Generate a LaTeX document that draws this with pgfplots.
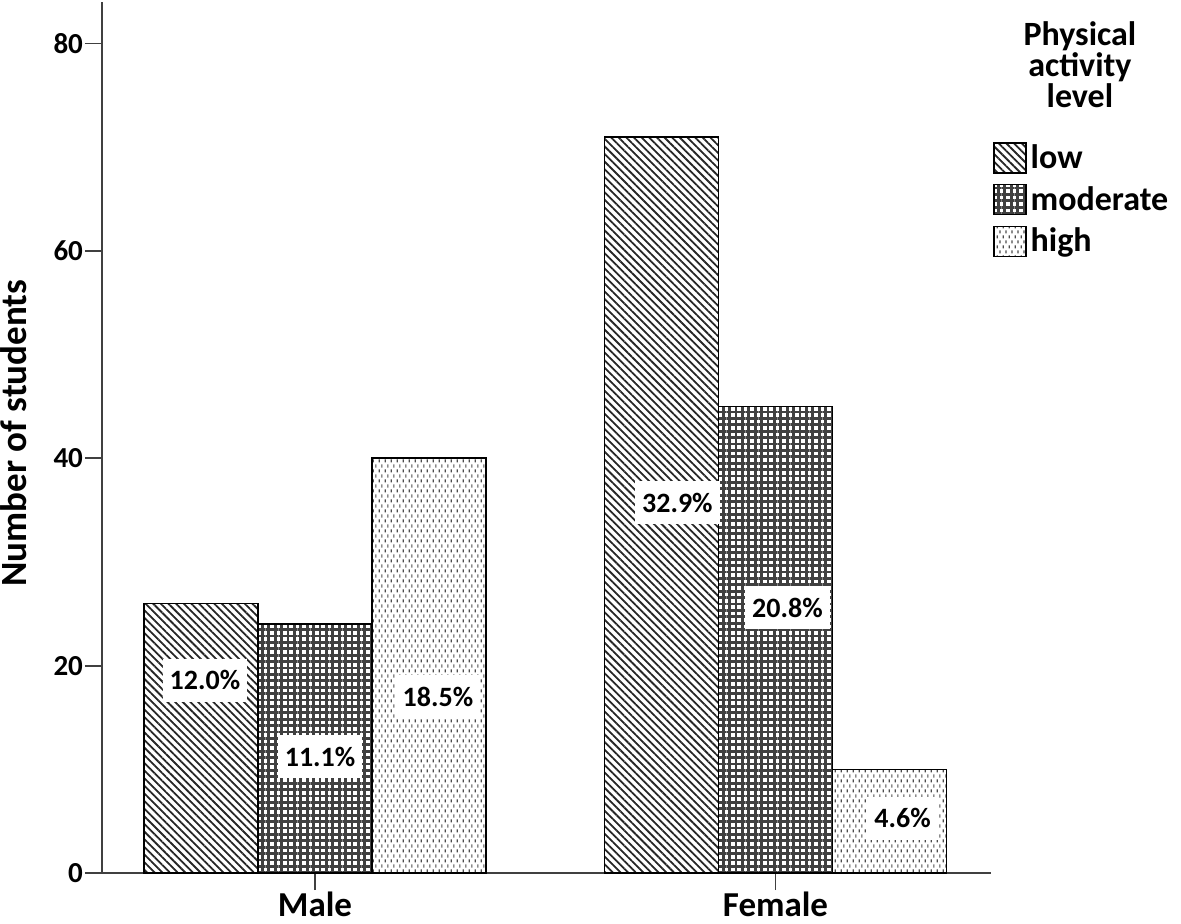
\documentclass[border=0pt]{standalone}
\usepackage{fontspec}
\setmainfont{Carlito}
\usepackage{pgfplots}
\pgfplotsset{compat=1.18}
\usetikzlibrary{patterns.meta}

\tikzdeclarepattern{
  name=hidots, type=uncolored,
  bounding box={(0pt,0pt) and (3pt,5.2pt)},
  tile size={(3pt,5.2pt)},
  code={\fill (0.4pt,0.3pt) rectangle (1.1pt,1.9pt);
        \fill (1.9pt,2.9pt) rectangle (2.6pt,4.5pt);}
}

\pgfplotsset{
  mybar/.style={ybar, bar width=0.2476, draw=black, line width=0.75pt,
    legend image code/.code={\draw[##1, line width=0.75pt] (0pt,-7.5pt) rectangle (16pt,7.5pt);}},
}

\begin{document}
\begin{tikzpicture}
\path[use as bounding box] (-51pt,-25.5pt) rectangle (539.5pt,436.5pt);
\begin{axis}[
  at={(0,0)}, anchor=south west,
  scale only axis, width=444.5pt, height=435.5pt,
  xmin=-0.4625, xmax=1.468, ymin=0, ymax=84,
  axis x line*=bottom, axis y line*=left,
  axis line style={line width=0.9pt, black!75},
  ytick={0,20,40,60,80}, xtick={0,1}, xticklabels={Male,Female},
  tick align=outside, major tick length=8.5pt,
  tick style={line width=0.9pt, black!75},
  /pgf/number format/assume math mode=true,
  yticklabel style={font=\fontsize{14.5}{14}\selectfont\bfseries, xshift=2.5pt},
  xticklabel style={font=\fontsize{17.5}{18}\selectfont\bfseries, yshift=2.5pt},
  ylabel={Number of students},
  ylabel style={at={(axis description cs:-0.099,0.505)}, anchor=center, font=\fontsize{18.5}{20}\selectfont\bfseries},
  clip=false,
  legend style={at={(axis description cs:1.002,0.8416)}, anchor=north west, draw=none, fill=none,
    inner sep=0pt, row sep=3.5pt, font=\fontsize{17}{18}\selectfont\bfseries,
    cells={anchor=west}},
]
\addplot[mybar, bar shift=-0.2476, pattern={Lines[angle=-45, distance=2.7pt, line width=0.9pt]}, pattern color=black!85]
  coordinates {(0,26) (1,71)};
\addlegendentry{low}
\addplot[mybar, bar shift=0, pattern={Hatch[angle=0, distance=3.2pt, line width=1.45pt]}, pattern color=black!75]
  coordinates {(0,24) (1,45)};
\addlegendentry{moderate}
\addplot[mybar, bar shift=0.2476, pattern=hidots, pattern color=black!70]
  coordinates {(0,40) (1,10)};
\addlegendentry{high}

\addplot[sharp plot, draw=none, mark=none, forget plot,
  nodes near coords, point meta=explicit symbolic,
  nodes near coords style={anchor=center, fill=white, inner xsep=3.5pt, inner ysep=0pt,
    minimum height=21.5pt, font=\fontsize{14}{16}\selectfont\bfseries}]
  coordinates {(-0.239,18.6)[12.0\%] (0.011,11.2)[11.1\%] (0.267,17.0)[18.5\%]
               (0.787,35.7)[32.9\%] (1.026,25.6)[20.8\%] (1.276,5.3)[4.6\%]};

\node[align=center, font=\fontsize{17}{15.5}\selectfont\bfseries] at (axis description cs:1.100,0.9285) {Physical\\activity\\level};
\end{axis}
\end{tikzpicture}
\end{document}
